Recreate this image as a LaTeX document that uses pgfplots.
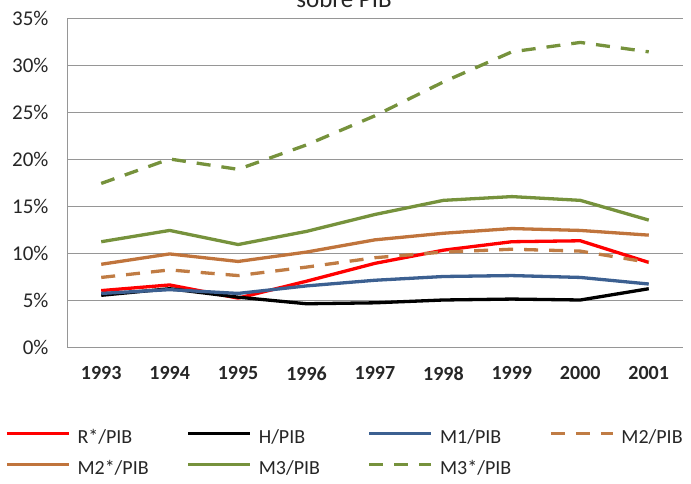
\documentclass[border=0pt]{standalone}
\usepackage{pgfplots}
\pgfplotsset{compat=1.18}
\usepackage{fontspec}
\setmainfont{Carlito}
\definecolor{cred}{RGB}{255,0,0}
\definecolor{cblue}{RGB}{60,96,145}
\definecolor{cbrown}{RGB}{192,116,60}
\definecolor{cbrownd}{RGB}{192,124,68}
\definecolor{cgreen}{RGB}{118,146,60}
\definecolor{cgrid}{RGB}{150,150,150}
\begin{document}
\begin{tikzpicture}[x=1pt,y=1pt]
\clip (0,0) rectangle (691,484);
\path[use as bounding box] (0,0) rectangle (691,484);
\node[anchor=base, font=\fontsize{25}{30}\selectfont, text=black!85] at (344,476) {sobre PIB};
\begin{axis}[
  at={(67pt,137pt)}, anchor=south west,
  scale only axis, width=616pt, height=329pt,
  xmin=1992.5, xmax=2001.5, ymin=0, ymax=35,
  xtick={1993,...,2001},
  xticklabels={1993,1994,1995,1996,1997,1998,1999,2000,2001},
  ytick={0,5,...,35},
  yticklabels={0\%,5\%,10\%,15\%,20\%,25\%,30\%,35\%},
  axis x line=bottom, axis y line=left,
  axis line style={-, draw=cgrid, line width=0.9pt},
  major tick length=0pt,
  ymajorgrids, grid style={draw=cgrid, line width=0.9pt},
  xticklabel style={font=\bfseries\fontsize{20}{24}\selectfont, text=black!85, yshift=-16pt},
  yticklabel style={font=\fontsize{21}{25}\selectfont, text=black!85, xshift=-15pt},
  clip=false,
  every axis plot/.append style={line width=3.3pt, line join=round},
  legend style={at={(axis description cs:-0.1055,-0.243)}, anchor=north west,
    draw=none, fill=none, font=\fontsize{20}{24}\selectfont,
    nodes={inner sep=0pt, text width=109pt, align=left, text height=14pt, text depth=5pt, text=black!85},
    row sep=12pt,
    /tikz/every odd column/.append style={column sep=7pt}},
  legend columns=4,
  legend image code/.code={\draw[#1] (0pt,5pt) -- (62pt,5pt);},
]
\addplot[cred] coordinates {(1993,6.0) (1994,6.6) (1995,5.2) (1996,7.0) (1997,8.9) (1998,10.3) (1999,11.2) (2000,11.3) (2001,9.0)};
\addlegendentry{R*/PIB}
\addplot[black] coordinates {(1993,5.5) (1994,6.2) (1995,5.3) (1996,4.6) (1997,4.7) (1998,5.0) (1999,5.1) (2000,5.0) (2001,6.2)};
\addlegendentry{H/PIB}
\addplot[cblue] coordinates {(1993,5.7) (1994,6.1) (1995,5.7) (1996,6.5) (1997,7.1) (1998,7.5) (1999,7.6) (2000,7.4) (2001,6.7)};
\addlegendentry{M1/PIB}
\addplot[cbrownd, dash pattern=on 14pt off 11pt] coordinates {(1993,7.4) (1994,8.2) (1995,7.6) (1996,8.5) (1997,9.5) (1998,10.1) (1999,10.4) (2000,10.2) (2001,9.0)};
\addlegendentry{M2/PIB}
\addplot[cbrown] coordinates {(1993,8.8) (1994,9.9) (1995,9.1) (1996,10.1) (1997,11.4) (1998,12.1) (1999,12.6) (2000,12.4) (2001,11.9)};
\addlegendentry{M2*/PIB}
\addplot[cgreen] coordinates {(1993,11.2) (1994,12.4) (1995,10.9) (1996,12.3) (1997,14.1) (1998,15.6) (1999,16.0) (2000,15.6) (2001,13.5)};
\addlegendentry{M3/PIB}
\addplot[cgreen, dash pattern=on 14pt off 11pt] coordinates {(1993,17.4) (1994,20.0) (1995,18.9) (1996,21.5) (1997,24.6) (1998,28.2) (1999,31.4) (2000,32.4) (2001,31.4)};
\addlegendentry{M3*/PIB}
\end{axis}
\end{tikzpicture}
\end{document}
